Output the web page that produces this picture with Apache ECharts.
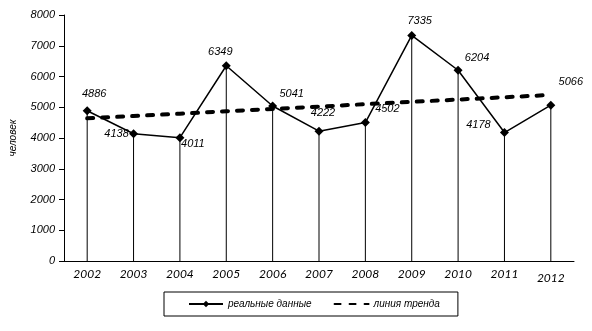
<!DOCTYPE html>
<html>
<head>
<meta charset="utf-8">
<script src="https://cdn.jsdelivr.net/npm/echarts@6/dist/echarts.min.js"></script>
<style>
  html, body { margin: 0; padding: 0; background: #fff; }
  #chart { width: 592px; height: 331px; }
</style>
</head>
<body>
<div id="chart"></div>
<script>
// Years on the category axis
const years = ['2002', '2003', '2004', '2005', '2006', '2007', '2008', '2009', '2010', '2011', '2012'];
// Actual headcount per year
const realValues = [4886, 4138, 4011, 6349, 5041, 4222, 4502, 7335, 6204, 4178, 5066];
// Trend line values per year
const trendValues = [4640, 4715, 4790, 4870, 4945, 5020, 5100, 5175, 5250, 5325, 5400];
// Value axis ticks
const yTicks = [0, 1000, 2000, 3000, 4000, 5000, 6000, 7000, 8000];

// Placement of each value label relative to its point
const labelOffsets = [[7, -17], [-17, 0], [13, 6], [-6, -14], [19, -12], [4, -18],
                      [22, -14], [8, -15], [19, -12], [-26, -8], [20, -23]];

const FONT = '"Liberation Sans", Arial, sans-serif';
const XFONT = 'Lato, sans-serif';

const chart = echarts.init(document.getElementById('chart'), null, { renderer: 'canvas' });

chart.setOption({
  animation: false,
  backgroundColor: '#fff',
  grid: { left: 59, right: 18, top: 15, bottom: 70 },
  xAxis: {
    type: 'category',
    data: years,
    boundaryGap: true,
    axisLine: { lineStyle: { color: '#000', width: 1 } },
    axisTick: { show: false },
    axisLabel: {
      interval: 0,
      margin: 7,
      color: '#000',
      fontFamily: XFONT,
      fontStyle: 'italic',
      fontWeight: 'normal',
      fontSize: 12,
      formatter: v => (v === '2012' ? '{low|' + v + '}' : v),
      rich: { low: { padding: [4, 0, 0, 0], fontFamily: XFONT, fontStyle: 'italic', fontSize: 12, color: '#000' } }
    },
    splitLine: { show: false }
  },
  yAxis: {
    type: 'value',
    min: yTicks[0],
    max: yTicks[yTicks.length - 1],
    interval: yTicks[1] - yTicks[0],
    name: 'человек',
    nameLocation: 'middle',
    nameGap: 46,
    nameTextStyle: { fontFamily: FONT, fontStyle: 'italic', fontSize: 10, color: '#000' },
    axisLine: { show: true, lineStyle: { color: '#000', width: 1 } },
    axisTick: { show: true, length: 5, lineStyle: { color: '#000' } },
    axisLabel: {
      margin: 9, color: '#000', fontFamily: FONT, fontStyle: 'italic', fontSize: 11,
      formatter: v => String(v)
    },
    splitLine: { show: false }
  },
  legend: {
    data: [
      { name: 'реальные данные' },
      { name: 'линия тренда', itemStyle: { color: 'rgba(0,0,0,0)', borderWidth: 0 } }
    ],
    left: 164,
    top: 292,
    orient: 'horizontal',
    itemWidth: 34,
    itemHeight: 8,
    itemGap: 22,
    padding: [7, 18, 7, 24],
    borderColor: '#000',
    borderWidth: 1,
    textStyle: { fontFamily: FONT, fontStyle: 'italic', fontSize: 10, color: '#000' }
  },
  series: [
    {
      // drop lines from every point to the axis
      name: 'drop',
      type: 'bar',
      data: realValues,
      barWidth: 1,
      itemStyle: { color: '#000' },
      silent: true,
      z: 1
    },
    {
      name: 'линия тренда',
      type: 'line',
      data: trendValues,
      symbol: 'none',
      lineStyle: { color: '#000', width: 4, type: [6, 9], cap: 'round' },
      itemStyle: { color: '#000' },
      z: 2
    },
    {
      name: 'реальные данные',
      type: 'line',
      data: realValues.map((v, i) => ({
        value: v,
        label: { offset: labelOffsets[i] }
      })),
      symbol: 'diamond',
      symbolSize: 9,
      lineStyle: { color: '#000', width: 1.5 },
      itemStyle: { color: '#000' },
      label: {
        show: true,
        position: 'inside',
        color: '#000',
        fontFamily: FONT,
        fontStyle: 'italic',
        fontSize: 11
      },
      z: 3
    }
  ]
});
</script>
</body>
</html>
